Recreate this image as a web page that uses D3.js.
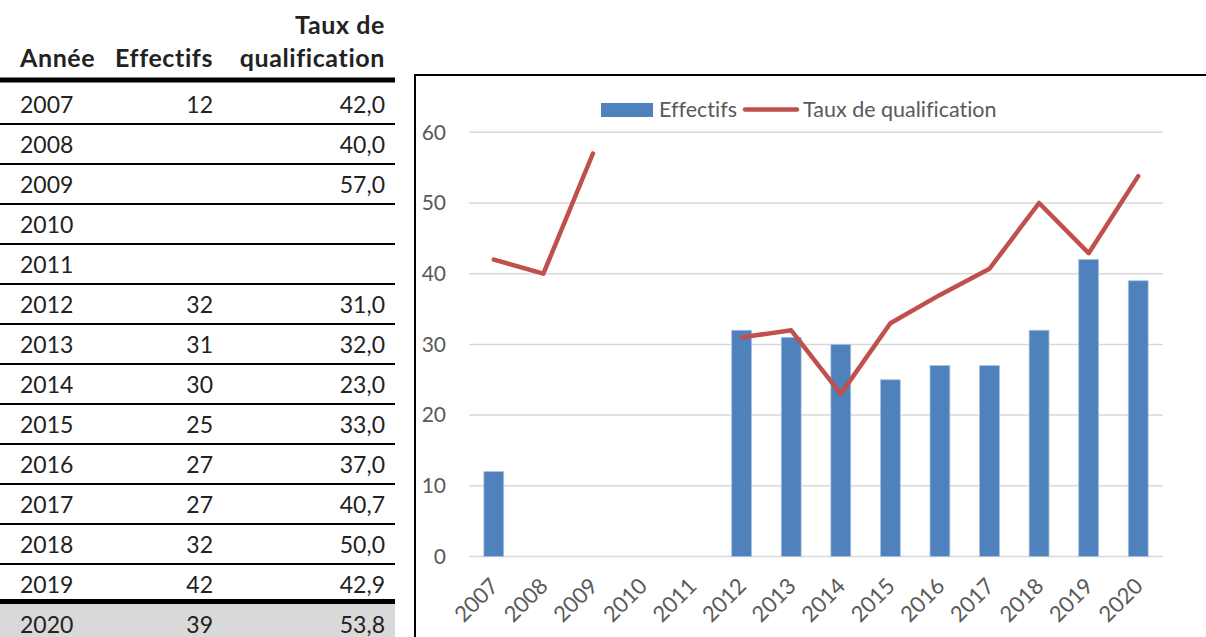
<!DOCTYPE html>
<html>
<head>
<meta charset="utf-8">
<script src="https://cdn.jsdelivr.net/npm/d3@7"></script>
<style>
  body { margin: 0; background: #fff; }
  svg { display: block; font-family: Lato, "Open Sans", sans-serif; font-variant-ligatures: none; }
</style>
</head>
<body>
<div id="cont"></div>
<script>
// data
var years = ["2007", "2008", "2009", "2010", "2011", "2012", "2013", "2014", "2015", "2016", "2017", "2018", "2019", "2020"];
var effectifs = [12, null, null, null, null, 32, 31, 30, 25, 27, 27, 32, 42, 39];
var taux = [42.0, 40.0, 57.0, null, null, 31.0, 32.0, 23.0, 33.0, 37.0, 40.7, 50.0, 42.9, 53.8];
var tauxLabels = ["42,0", "40,0", "57,0", "", "", "31,0", "32,0", "23,0", "33,0", "37,0", "40,7", "50,0", "42,9", "53,8"];
var yTicks = [0, 10, 20, 30, 40, 50, 60];
var seriesNames = ["Effectifs", "Taux de qualification"];

var W = 1206, H = 637;
var blue = "#4F81BD", red = "#C0504D", grid = "#D9D9D9", txt = "#595959";

var svg = d3.select("#cont").append("svg")
    .attr("width", W)
    .attr("height", H);

// ---------- table on the left ----------
var table = svg.append("g");
var colYear = 20, colEff = 213, colTaux = 385, tableW = 395;
var rowBase = 113, rowStep = 40;

// header
function header(label, xpos, ypos, anchor) {
  table.append("text").attr("x", xpos).attr("y", ypos)
      .attr("text-anchor", anchor).style("font-weight", "bold")
      .style("font-size", "25px").style("letter-spacing", "0.6px")
      .style("fill", "#222").text(label);
}
header("Taux de", colTaux, 34, "end");
header("Année", colYear, 67, "start");
header("Effectifs", colEff, 67, "end");
header("qualification", colTaux, 67, "end");

table.append("line").attr("x1", 0).attr("x2", tableW)
    .attr("y1", 80).attr("y2", 80)
    .style("stroke", "#000").style("stroke-width", 5);

// last row background
var last = years.length - 1;
table.append("rect").attr("x", 0).attr("width", tableW)
    .attr("y", rowBase + last * rowStep - 29).attr("height", 40)
    .style("fill", "#D9D9D9");

var rows = table.selectAll("g.row")
    .data(years)
  .enter().append("g")
    .attr("class", "row")
    .attr("transform", function(d, i) { return "translate(0," + (rowBase + i * rowStep) + ")"; });

rows.append("text").attr("x", colYear)
    .style("font-size", "23px").style("fill", "#222")
    .text(function(d) { return d; });
rows.append("text").attr("x", colEff).attr("text-anchor", "end")
    .style("font-size", "23px").style("fill", "#222")
    .text(function(d, i) { return effectifs[i] == null ? "" : effectifs[i]; });
rows.append("text").attr("x", colTaux).attr("text-anchor", "end")
    .style("font-size", "23px").style("fill", "#222")
    .text(function(d, i) { return tauxLabels[i]; });

rows.filter(function(d, i) { return i < last; })
  .append("line")
    .attr("x1", 0).attr("x2", tableW)
    .attr("y1", function(d, i) { return i == last - 1 ? 8.5 : 11; })
    .attr("y2", function(d, i) { return i == last - 1 ? 8.5 : 11; })
    .style("stroke", "#000")
    .style("stroke-width", function(d, i) { return i == last - 1 ? 5 : 2; });

// ---------- chart on the right ----------
// frame (only top and left edges are visible)
svg.append("path")
    .attr("d", "M415,637V75H1206")
    .style("fill", "none").style("stroke", "#000").style("stroke-width", 2);

var x = d3.scaleBand().domain(years).range([469, 1163])
    .paddingInner(0.6).paddingOuter(0.3);
var y = d3.scaleLinear().domain([0, 60]).range([556.5, 132.3]);

// gridlines
svg.append("g").selectAll("line")
    .data(yTicks)
  .enter().append("line")
    .attr("x1", 469).attr("x2", 1163)
    .attr("y1", function(d) { return y(d); })
    .attr("y2", function(d) { return y(d); })
    .style("stroke", grid).style("stroke-width", 1.5);

// y axis labels
var yAxis = svg.append("g")
    .attr("transform", "translate(446,0)")
    .call(d3.axisLeft(y).tickValues(yTicks).tickSize(0).tickPadding(0));
yAxis.select(".domain").remove();
yAxis.selectAll("text")
    .style("font-family", "Lato, 'Open Sans', sans-serif")
    .style("font-size", "21px").style("fill", txt);

// x axis labels
var xAxis = svg.append("g")
    .attr("transform", "translate(0,556.5)")
    .call(d3.axisBottom(x).tickSize(0).tickPadding(0));
xAxis.select(".domain").remove();
xAxis.selectAll("text")
    .style("font-family", "Lato, 'Open Sans', sans-serif")
    .style("font-size", "22px").style("fill", txt)
    .attr("text-anchor", "end")
    .attr("y", 0).attr("dy", 0)
    .attr("transform", "translate(6,31) rotate(-45)");

// bars
var barData = years.map(function(d, i) { return {year: d, v: effectifs[i]}; })
    .filter(function(d) { return d.v != null; });
svg.append("g").selectAll("rect")
    .data(barData)
  .enter().append("rect")
    .attr("x", function(d) { return x(d.year); })
    .attr("width", x.bandwidth())
    .attr("y", function(d) { return y(d.v); })
    .attr("height", function(d) { return y(0) - y(d.v); })
    .style("fill", blue)
    .style("stroke", "#A7C0DE").style("stroke-width", 0.8);

// line with a gap for the missing years
var lineData = years.map(function(d, i) { return {year: d, v: taux[i]}; });
var valueline = d3.line()
    .defined(function(d) { return d.v != null; })
    .x(function(d) { return x(d.year) + x.bandwidth() / 2; })
    .y(function(d) { return y(d.v); });
svg.append("path")
    .datum(lineData)
    .attr("d", valueline)
    .style("fill", "none").style("stroke", red)
    .style("stroke-width", 4.5)
    .style("stroke-linejoin", "round").style("stroke-linecap", "round");

// legend
var legend = svg.append("g");
legend.append("rect")
    .attr("x", 601).attr("y", 103).attr("width", 52).attr("height", 14)
    .style("fill", blue);
legend.append("text").attr("x", 659).attr("y", 117)
    .style("font-size", "21.5px").style("fill", txt).text(seriesNames[0]);
legend.append("line")
    .attr("x1", 745).attr("x2", 797).attr("y1", 109.5).attr("y2", 109.5)
    .style("stroke", red).style("stroke-width", 4.5).style("stroke-linecap", "round");
legend.append("text").attr("x", 803).attr("y", 117)
    .style("font-size", "21.5px").style("fill", txt).text(seriesNames[1]);
</script>
</body>
</html>
